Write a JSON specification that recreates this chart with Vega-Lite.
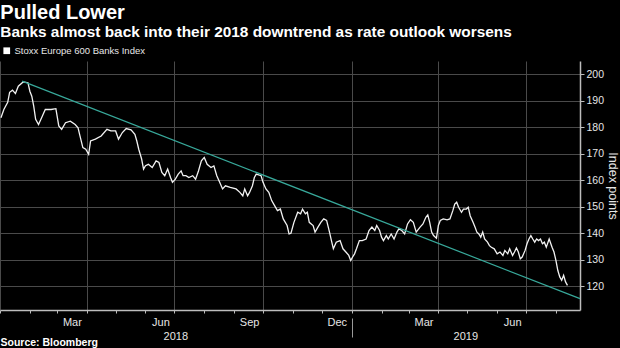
{
  "$schema": "https://vega.github.io/schema/vega-lite/v6.json",
  "width": 580,
  "height": 249,
  "autosize": {"type": "none"},
  "padding": {"left": 0, "top": 61, "right": 40, "bottom": 38},
  "background": "#000000",
  "config": {
    "view": {"stroke": null},
    "font": "Liberation Sans"
  },
  "title": {
    "text": "Pulled Lower",
    "subtitle": "Banks almost back into their 2018 downtrend as rate outlook worsens",
    "anchor": "start",
    "color": "#ffffff",
    "subtitleColor": "#ffffff",
    "fontSize": 20,
    "fontWeight": "bold",
    "subtitleFontSize": 15.4,
    "subtitleFontWeight": "bold",
    "subtitlePadding": 2,
    "offset": 6,
    "dx": 2
  },
  "datasets": {
    "index": [
      {"date": "2018-01-02", "value": 183.6},
      {"date": "2018-01-05", "value": 186.7},
      {"date": "2018-01-09", "value": 189.4},
      {"date": "2018-01-11", "value": 193.2},
      {"date": "2018-01-14", "value": 194.0},
      {"date": "2018-01-17", "value": 192.7},
      {"date": "2018-01-20", "value": 195.5},
      {"date": "2018-01-25", "value": 197.1},
      {"date": "2018-01-30", "value": 196.8},
      {"date": "2018-02-01", "value": 193.6},
      {"date": "2018-02-03", "value": 191.7},
      {"date": "2018-02-05", "value": 188.0},
      {"date": "2018-02-07", "value": 183.0},
      {"date": "2018-02-10", "value": 181.0},
      {"date": "2018-02-14", "value": 184.2},
      {"date": "2018-02-17", "value": 186.7},
      {"date": "2018-02-23", "value": 186.7},
      {"date": "2018-02-28", "value": 187.0},
      {"date": "2018-03-03", "value": 180.5},
      {"date": "2018-03-06", "value": 179.2},
      {"date": "2018-03-10", "value": 181.7},
      {"date": "2018-03-15", "value": 182.3},
      {"date": "2018-03-20", "value": 181.0},
      {"date": "2018-03-23", "value": 179.8},
      {"date": "2018-03-25", "value": 176.7},
      {"date": "2018-03-28", "value": 172.3},
      {"date": "2018-03-31", "value": 171.7},
      {"date": "2018-04-03", "value": 169.8},
      {"date": "2018-04-05", "value": 174.8},
      {"date": "2018-04-10", "value": 175.5},
      {"date": "2018-04-16", "value": 176.7},
      {"date": "2018-04-22", "value": 179.2},
      {"date": "2018-04-26", "value": 178.6},
      {"date": "2018-05-01", "value": 178.6},
      {"date": "2018-05-04", "value": 175.5},
      {"date": "2018-05-08", "value": 178.0},
      {"date": "2018-05-12", "value": 179.5},
      {"date": "2018-05-17", "value": 179.0},
      {"date": "2018-05-21", "value": 177.3},
      {"date": "2018-05-23", "value": 174.8},
      {"date": "2018-05-25", "value": 171.7},
      {"date": "2018-05-28", "value": 168.0},
      {"date": "2018-05-30", "value": 164.2},
      {"date": "2018-06-01", "value": 165.5},
      {"date": "2018-06-04", "value": 166.0},
      {"date": "2018-06-08", "value": 164.8},
      {"date": "2018-06-12", "value": 167.3},
      {"date": "2018-06-15", "value": 166.7},
      {"date": "2018-06-18", "value": 162.9},
      {"date": "2018-06-21", "value": 161.7},
      {"date": "2018-06-24", "value": 164.2},
      {"date": "2018-06-27", "value": 161.0},
      {"date": "2018-06-29", "value": 159.2},
      {"date": "2018-07-02", "value": 160.4},
      {"date": "2018-07-05", "value": 162.3},
      {"date": "2018-07-08", "value": 163.5},
      {"date": "2018-07-10", "value": 161.7},
      {"date": "2018-07-13", "value": 161.7},
      {"date": "2018-07-16", "value": 161.0},
      {"date": "2018-07-20", "value": 161.7},
      {"date": "2018-07-23", "value": 160.4},
      {"date": "2018-07-26", "value": 163.5},
      {"date": "2018-07-29", "value": 167.3},
      {"date": "2018-08-01", "value": 168.6},
      {"date": "2018-08-04", "value": 166.0},
      {"date": "2018-08-08", "value": 164.8},
      {"date": "2018-08-11", "value": 165.4},
      {"date": "2018-08-14", "value": 161.7},
      {"date": "2018-08-17", "value": 159.2},
      {"date": "2018-08-20", "value": 156.7},
      {"date": "2018-08-23", "value": 157.9},
      {"date": "2018-08-28", "value": 157.3},
      {"date": "2018-09-03", "value": 156.7},
      {"date": "2018-09-07", "value": 155.4},
      {"date": "2018-09-10", "value": 154.1},
      {"date": "2018-09-12", "value": 156.7},
      {"date": "2018-09-15", "value": 154.1},
      {"date": "2018-09-17", "value": 155.4},
      {"date": "2018-09-20", "value": 157.9},
      {"date": "2018-09-22", "value": 161.0},
      {"date": "2018-09-24", "value": 162.3},
      {"date": "2018-09-29", "value": 161.7},
      {"date": "2018-10-01", "value": 159.2},
      {"date": "2018-10-04", "value": 156.7},
      {"date": "2018-10-07", "value": 155.4},
      {"date": "2018-10-10", "value": 152.3},
      {"date": "2018-10-13", "value": 150.4},
      {"date": "2018-10-16", "value": 148.5},
      {"date": "2018-10-19", "value": 149.1},
      {"date": "2018-10-22", "value": 145.4},
      {"date": "2018-10-26", "value": 142.9},
      {"date": "2018-10-28", "value": 139.7},
      {"date": "2018-10-30", "value": 140.0},
      {"date": "2018-11-02", "value": 144.0},
      {"date": "2018-11-06", "value": 147.9},
      {"date": "2018-11-09", "value": 147.3},
      {"date": "2018-11-11", "value": 149.1},
      {"date": "2018-11-14", "value": 147.3},
      {"date": "2018-11-16", "value": 147.9},
      {"date": "2018-11-18", "value": 144.1},
      {"date": "2018-11-22", "value": 142.9},
      {"date": "2018-11-24", "value": 140.4},
      {"date": "2018-11-27", "value": 142.3},
      {"date": "2018-11-30", "value": 144.1},
      {"date": "2018-12-03", "value": 145.4},
      {"date": "2018-12-06", "value": 144.8},
      {"date": "2018-12-09", "value": 140.4},
      {"date": "2018-12-11", "value": 137.2},
      {"date": "2018-12-13", "value": 134.1},
      {"date": "2018-12-16", "value": 136.6},
      {"date": "2018-12-20", "value": 137.2},
      {"date": "2018-12-23", "value": 134.1},
      {"date": "2018-12-26", "value": 132.9},
      {"date": "2018-12-29", "value": 131.6},
      {"date": "2018-12-31", "value": 129.7},
      {"date": "2019-01-02", "value": 131.0},
      {"date": "2019-01-04", "value": 132.2},
      {"date": "2019-01-06", "value": 134.1},
      {"date": "2019-01-09", "value": 137.2},
      {"date": "2019-01-12", "value": 137.2},
      {"date": "2019-01-16", "value": 137.8},
      {"date": "2019-01-19", "value": 141.0},
      {"date": "2019-01-22", "value": 142.3},
      {"date": "2019-01-25", "value": 141.0},
      {"date": "2019-01-27", "value": 142.9},
      {"date": "2019-01-30", "value": 141.0},
      {"date": "2019-02-01", "value": 138.5},
      {"date": "2019-02-03", "value": 137.2},
      {"date": "2019-02-06", "value": 139.1},
      {"date": "2019-02-08", "value": 137.8},
      {"date": "2019-02-11", "value": 139.7},
      {"date": "2019-02-14", "value": 137.8},
      {"date": "2019-02-17", "value": 140.4},
      {"date": "2019-02-19", "value": 141.6},
      {"date": "2019-02-22", "value": 141.0},
      {"date": "2019-02-25", "value": 139.7},
      {"date": "2019-02-28", "value": 143.5},
      {"date": "2019-03-03", "value": 145.1},
      {"date": "2019-03-06", "value": 144.1},
      {"date": "2019-03-09", "value": 140.4},
      {"date": "2019-03-13", "value": 142.3},
      {"date": "2019-03-16", "value": 143.5},
      {"date": "2019-03-19", "value": 146.0},
      {"date": "2019-03-21", "value": 146.9},
      {"date": "2019-03-23", "value": 144.1},
      {"date": "2019-03-25", "value": 140.4},
      {"date": "2019-03-27", "value": 139.1},
      {"date": "2019-03-30", "value": 138.1},
      {"date": "2019-04-01", "value": 142.9},
      {"date": "2019-04-03", "value": 144.8},
      {"date": "2019-04-06", "value": 145.4},
      {"date": "2019-04-10", "value": 145.0},
      {"date": "2019-04-13", "value": 145.4},
      {"date": "2019-04-16", "value": 148.5},
      {"date": "2019-04-18", "value": 151.0},
      {"date": "2019-04-20", "value": 151.7},
      {"date": "2019-04-22", "value": 149.8},
      {"date": "2019-04-25", "value": 147.9},
      {"date": "2019-04-27", "value": 149.1},
      {"date": "2019-04-30", "value": 149.1},
      {"date": "2019-05-02", "value": 149.8},
      {"date": "2019-05-04", "value": 146.6},
      {"date": "2019-05-07", "value": 144.1},
      {"date": "2019-05-09", "value": 142.3},
      {"date": "2019-05-11", "value": 140.4},
      {"date": "2019-05-13", "value": 139.7},
      {"date": "2019-05-15", "value": 138.5},
      {"date": "2019-05-17", "value": 140.4},
      {"date": "2019-05-19", "value": 137.8},
      {"date": "2019-05-22", "value": 136.6},
      {"date": "2019-05-24", "value": 135.3},
      {"date": "2019-05-26", "value": 134.7},
      {"date": "2019-05-29", "value": 134.1},
      {"date": "2019-06-01", "value": 132.2},
      {"date": "2019-06-04", "value": 132.9},
      {"date": "2019-06-07", "value": 131.6},
      {"date": "2019-06-09", "value": 133.5},
      {"date": "2019-06-12", "value": 132.2},
      {"date": "2019-06-14", "value": 134.1},
      {"date": "2019-06-17", "value": 131.6},
      {"date": "2019-06-19", "value": 132.9},
      {"date": "2019-06-21", "value": 134.4},
      {"date": "2019-06-23", "value": 132.9},
      {"date": "2019-06-25", "value": 130.3},
      {"date": "2019-06-27", "value": 131.0},
      {"date": "2019-06-30", "value": 133.5},
      {"date": "2019-07-02", "value": 136.0},
      {"date": "2019-07-04", "value": 137.8},
      {"date": "2019-07-06", "value": 139.1},
      {"date": "2019-07-08", "value": 137.8},
      {"date": "2019-07-10", "value": 136.6},
      {"date": "2019-07-12", "value": 137.8},
      {"date": "2019-07-14", "value": 137.2},
      {"date": "2019-07-16", "value": 137.8},
      {"date": "2019-07-18", "value": 136.0},
      {"date": "2019-07-20", "value": 136.6},
      {"date": "2019-07-22", "value": 134.7},
      {"date": "2019-07-25", "value": 137.8},
      {"date": "2019-07-28", "value": 134.7},
      {"date": "2019-07-30", "value": 132.9},
      {"date": "2019-08-01", "value": 129.7},
      {"date": "2019-08-03", "value": 125.9},
      {"date": "2019-08-05", "value": 123.5},
      {"date": "2019-08-07", "value": 122.2},
      {"date": "2019-08-09", "value": 124.1},
      {"date": "2019-08-11", "value": 121.6},
      {"date": "2019-08-13", "value": 120.3}
    ],
    "trend": [
      {"date": "2018-01-24", "value": 197.4},
      {"date": "2019-08-26", "value": 115.3}
    ]
  },
  "encoding": {
    "y": {
      "field": "value",
      "type": "quantitative",
      "scale": {"domain": [111, 205], "nice": false, "zero": false},
      "axis": {
        "orient": "right",
        "values": [120, 130, 140, 150, 160, 170, 180, 190, 200],
        "grid": true,
        "gridColor": "#4a4a4a",
        "domainColor": "#bdbdbd",
        "domainWidth": 1.5,
        "tickColor": "#bdbdbd",
        "tickSize": 4,
        "labelColor": "#e6e6e6",
        "labelFontSize": 10.5,
        "labelPadding": 2,
        "title": "Index points",
        "titleAngle": 90,
        "titleColor": "#e6e6e6",
        "titleFontSize": 12.5,
        "titleFontWeight": "normal",
        "titlePadding": 2
      }
    }
  },
  "resolve": {"axis": {"x": "independent"}},
  "layer": [
    {
      "data": {"name": "index"},
      "mark": {"type": "line", "strokeWidth": 1.3, "interpolate": "linear"},
      "encoding": {
        "x": {
          "field": "date",
          "type": "temporal",
          "scale": {
            "type": "utc",
            "domain": [
              {"year": 2018, "month": 1, "date": 1, "utc": true},
              {"year": 2019, "month": 8, "date": 26, "utc": true}
            ]
          },
          "axis": {
            "orient": "bottom",
            "title": null,
            "values": [
              {"year": 2018, "month": 1, "date": 1, "utc": true},
              {"year": 2018, "month": 2, "date": 1, "utc": true},
              {"year": 2018, "month": 3, "date": 1, "utc": true},
              {"year": 2018, "month": 4, "date": 1, "utc": true},
              {"year": 2018, "month": 5, "date": 1, "utc": true},
              {"year": 2018, "month": 6, "date": 1, "utc": true},
              {"year": 2018, "month": 7, "date": 1, "utc": true},
              {"year": 2018, "month": 8, "date": 1, "utc": true},
              {"year": 2018, "month": 9, "date": 1, "utc": true},
              {"year": 2018, "month": 10, "date": 1, "utc": true},
              {"year": 2018, "month": 11, "date": 1, "utc": true},
              {"year": 2018, "month": 12, "date": 1, "utc": true},
              {"year": 2019, "month": 1, "date": 1, "utc": true},
              {"year": 2019, "month": 2, "date": 1, "utc": true},
              {"year": 2019, "month": 3, "date": 1, "utc": true},
              {"year": 2019, "month": 4, "date": 1, "utc": true},
              {"year": 2019, "month": 5, "date": 1, "utc": true},
              {"year": 2019, "month": 6, "date": 1, "utc": true},
              {"year": 2019, "month": 7, "date": 1, "utc": true},
              {"year": 2019, "month": 8, "date": 1, "utc": true}
            ],
            "grid": true,
            "gridColor": "#4a4a4a",
            "gridWidth": 1,
            "gridOpacity": {"condition": {"test": "utcmonth(datum.value) % 3 == 0", "value": 1}, "value": 0},
            "domainColor": "#bdbdbd",
            "domainWidth": 1.5,
            "tickColor": "#bdbdbd",
            "tickSize": 3,
            "labelExpr": "utcmonth(datum.value) % 3 == 2 ? utcFormat(datum.value, '%b') : ''",
            "labelOffset": 15,
            "labelOverlap": false,
            "labelFlush": false,
            "labelColor": "#e6e6e6",
            "labelFontSize": 11,
            "labelPadding": 3
          }
        },
        "color": {
          "datum": "Stoxx Europe 600 Banks Index",
          "type": "nominal",
          "scale": {"range": ["#f2f2f2"]},
          "legend": {
            "title": null,
            "orient": "none",
            "legendX": 2,
            "legendY": -15,
            "symbolType": "square",
            "symbolFillColor": "#ffffff",
            "symbolStrokeWidth": 0,
            "symbolSize": 45,
            "labelColor": "#e6e6e6",
            "labelFontSize": 9.5,
            "labelOffset": 3
          }
        }
      }
    },
    {
      "data": {"name": "trend"},
      "mark": {"type": "line", "color": "#38a99b", "strokeWidth": 1.2},
      "encoding": {
        "x": {
          "field": "date",
          "type": "temporal",
          "axis": {
            "orient": "bottom",
            "offset": 8,
            "values": [
              {"year": 2018, "month": 7, "date": 2, "utc": true},
              {"year": 2019, "month": 1, "date": 1, "utc": true},
              {"year": 2019, "month": 4, "date": 29, "utc": true}
            ],
            "domain": false,
            "grid": false,
            "ticks": true,
            "tickSize": 19,
            "tickColor": "#999999",
            "tickOpacity": {"condition": {"test": "utcmonth(datum.value) == 0 && utcdate(datum.value) == 1", "value": 1}, "value": 0},
            "labelExpr": "utcmonth(datum.value) == 0 && utcdate(datum.value) == 1 ? '' : utcFormat(datum.value, '%Y')",
            "labelPadding": -7,
            "labelOverlap": false,
            "labelFlush": false,
            "labelColor": "#e6e6e6",
            "labelFontSize": 11,
            "title": "Source: Bloomberg",
            "titleAnchor": "start",
            "titleAlign": "left",
            "titleColor": "#ffffff",
            "titleFontSize": 10.5,
            "titleFontWeight": "bold",
            "titlePadding": -4
          }
        }
      }
    }
  ]
}
